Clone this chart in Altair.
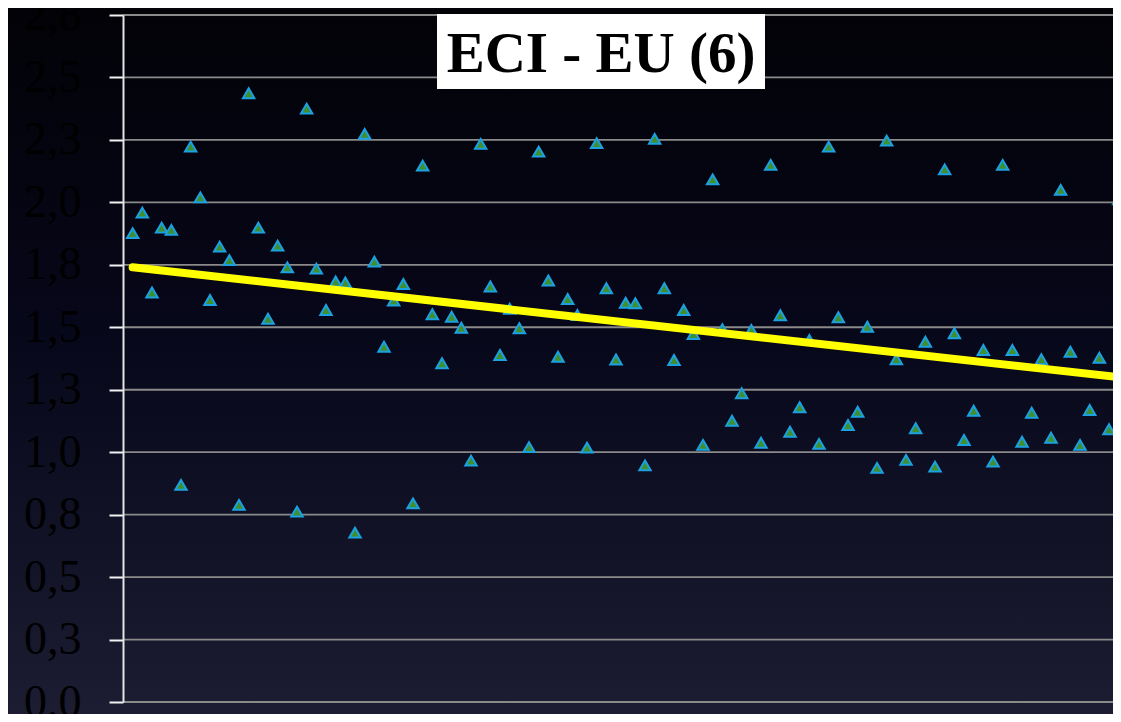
import altair as alt
import pandas as pd

# ---- data ----
eci_values = [
    1.877, 1.959, 1.639, 1.899, 1.890, 0.869, 2.223, 2.020, 1.609, 1.823,
    1.769, 0.789, 2.437, 1.899, 1.534, 1.827, 1.740, 0.762, 2.375, 1.735,
    1.569, 1.683, 1.679, 0.678, 2.274, 1.763, 1.422, 1.607, 1.673, 0.795,
    2.147, 1.552, 1.356, 1.542, 1.498, 0.966, 2.234, 1.663, 1.389, 1.574,
    1.496, 1.020, 2.203, 1.687, 1.382, 1.613, 1.549, 1.018, 2.237, 1.656,
    1.371, 1.598, 1.596, 0.947, 2.254, 1.656, 1.369, 1.569, 1.473, 1.029,
    2.092, 1.492, 1.126, 1.236, 1.489, 1.038, 2.150, 1.548, 1.082, 1.180,
    1.449, 1.033, 2.223, 1.540, 1.109, 1.162, 1.502, 0.937, 2.247, 1.372,
    0.969, 1.096, 1.442, 0.942, 2.132, 1.476, 1.049, 1.166, 1.409, 0.962,
    2.150, 1.409, 1.042, 1.158, 1.372, 1.058, 2.050, 1.402, 1.029, 1.169,
    1.378, 1.092, 2.012,
]
obs_index = list(range(len(eci_values)))

trend_index = [0, 102]
trend_values = [1.74, 1.30]

y_ticks = [0.0, 0.25, 0.5, 0.75, 1.0, 1.25, 1.5, 1.75, 2.0, 2.25, 2.5, 2.75]
y_tick_labels = ["0,0", "0,3", "0,5", "0,8", "1,0", "1,3", "1,5", "1,8",
                 "2,0", "2,3", "2,5", "2,8"]

title_text = "ECI - EU (6)"

# ---- layout (whole chart 1105 x 706 so the page is exactly 1121 x 722) ----
W, H = 990, 687
PAD = {"left": 115, "top": 7, "right": 0, "bottom": 12}

points_df = pd.DataFrame({"i": obs_index, "v": eci_values})
trend_df = pd.DataFrame({"i": trend_index, "v": trend_values})
ticks_df = pd.DataFrame({"v": y_ticks})
one = pd.DataFrame({"a": [0]})

xscale = alt.Scale(domain=[-1, 101.41], nice=False, zero=False)
yscale = alt.Scale(domain=[0, 2.75], nice=False)

label_expr = "[" + ",".join("'%s'" % s for s in y_tick_labels) + "][indexof([" + \
    ",".join(repr(t) for t in y_ticks) + "], datum.value)]"

gradient = alt.LinearGradient(
    gradient="linear",
    stops=[
        alt.GradientStop(offset=0, color="#020207"),
        alt.GradientStop(offset=0.45, color="#07071a"),
        alt.GradientStop(offset=1, color="#1c1c32"),
    ],
    x1=0, x2=0, y1=0, y2=1,
)

bg = alt.Chart(one).mark_rect(fill=gradient, stroke=None).encode(
    x=alt.value(-PAD["left"]), x2=alt.value(W),
    y=alt.value(-PAD["top"]), y2=alt.value(H + PAD["bottom"]),
)

grid = alt.Chart(ticks_df).mark_rule(color="#8a8a8a", strokeWidth=1.8).encode(
    y=alt.Y("v:Q", scale=yscale, axis=alt.Axis(
        values=y_ticks, labelExpr=label_expr, grid=False, title=None,
        domainColor="#e4e4e4", domainWidth=2,
        tickColor="#f2f2f2", tickWidth=2, tickSize=14,
        labelFont="Liberation Serif", labelFontSize=46, labelColor="#000000",
        labelPadding=28, labelOverlap=False, zindex=1,
    ))
)

pts = alt.Chart(points_df).mark_point(
    shape="triangle-up", filled=True, fill="#3f8f2f", stroke="#1ba1e2",
    strokeWidth=2, size=130, opacity=1, fillOpacity=1, strokeOpacity=1,
).encode(
    x=alt.X("i:Q", scale=xscale, axis=None),
    y=alt.Y("v:Q", scale=yscale),
)

trend = alt.Chart(trend_df).mark_line(
    color="#ffff00", strokeWidth=8, strokeCap="round"
).encode(
    x=alt.X("i:Q", scale=xscale, axis=None),
    y=alt.Y("v:Q", scale=yscale),
)

tbox = alt.Chart(one).mark_rect(fill="#ffffff").encode(
    x=alt.value(314), x2=alt.value(642), y=alt.value(-1), y2=alt.value(74),
)

ttext = alt.Chart(one).mark_text(
    text=title_text, font="Liberation Serif", fontWeight="bold", fontSize=57,
    color="#000000", align="center", baseline="alphabetic",
).encode(x=alt.value(478), y=alt.value(57))

chart = alt.layer(bg, grid, pts, trend, tbox, ttext).properties(
    width=W, height=H, padding=PAD,
    autosize=alt.AutoSizeParams(type="none"),
).configure_view(stroke=None).configure(background="#05050f")

chart.save("out.html", embed_options={"renderer": "svg", "actions": False})
